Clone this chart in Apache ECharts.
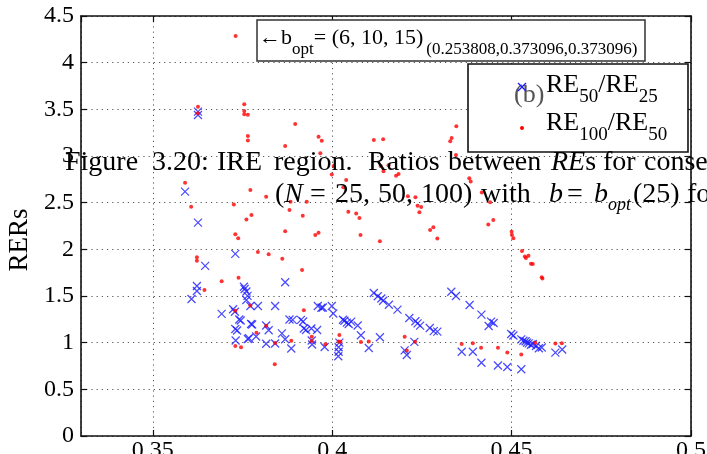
<!DOCTYPE html>
<html><head><meta charset="utf-8">
<script src="https://cdn.jsdelivr.net/npm/echarts@6/dist/echarts.min.js"></script>
<style>html,body{margin:0;padding:0;background:#fff}#c{width:707px;height:454px}</style>
</head><body><div id="c"></div>
<script>
const seriesNames = ['RE50/RE25', 'RE100/RE50'];
const xRange = [0.33, 0.5];
const yRange = [0, 4.5];

const re50_25 = [
[0.3626,3.475],[0.3626,3.439],[0.3590,2.618],[0.3626,2.286],[0.3646,1.822],[0.3730,1.952],[0.3869,1.647],[0.3623,1.607],[0.3623,1.554],[0.3608,1.468],
[0.3754,1.599],[0.3756,1.575],[0.3761,1.548],[0.3764,1.502],[0.3761,1.457],[0.3772,1.393],[0.3793,1.393],[0.3841,1.393],[0.3692,1.309],[0.3724,1.358],
[0.3729,1.331],[0.3741,1.248],[0.3745,1.238],[0.3774,1.200],[0.3777,1.195],[0.3730,1.146],[0.3735,1.130],[0.3816,1.184],[0.3823,1.133],[0.3860,1.100],
[0.3869,1.037],[0.3881,1.248],[0.3890,1.245],[0.3913,1.245],[0.3919,1.227],[0.3921,1.152],[0.3927,1.136],[0.3942,1.152],[0.3958,1.136],[0.3960,1.393],
[0.3970,1.374],[0.3974,1.377],[0.3999,1.393],[0.4003,1.313],[0.3731,1.023],[0.3765,1.039],[0.3768,1.047],[0.3788,1.066],[0.3816,0.988],[0.3841,0.991],
[0.3886,0.938],[0.3943,1.023],[0.3944,0.980],[0.3979,0.954],[0.4020,1.000],[0.4018,0.951],[0.4018,0.903],[0.4017,0.854],[0.4030,1.246],[0.4034,1.235],
[0.4041,1.214],[0.4046,1.200],[0.4053,1.225],[0.4071,1.184],[0.4080,1.079],[0.4102,0.943],[0.4133,1.058],[0.4116,1.532],[0.4127,1.497],[0.4137,1.473],
[0.4142,1.449],[0.4158,1.406],[0.4182,1.354],[0.4215,1.264],[0.4232,1.229],[0.4238,1.207],[0.4245,1.182],[0.4272,1.157],[0.4283,1.123],[0.4293,1.118],
[0.4202,0.918],[0.4208,0.868],[0.4229,1.009],[0.4332,1.546],[0.4345,1.500],[0.4383,1.404],[0.4416,1.300],[0.4443,1.225],[0.4436,1.179],[0.4450,1.211],
[0.4361,0.903],[0.4392,0.903],[0.4416,0.785],[0.4462,0.755],[0.4488,0.739],[0.4527,0.715],[0.4499,1.093],[0.4505,1.077],[0.4527,1.036],[0.4533,1.021],
[0.4539,1.015],[0.4543,1.000],[0.4548,0.993],[0.4554,0.978],[0.4559,0.986],[0.4568,0.964],[0.4576,0.940],[0.4584,0.948],[0.4622,0.893],[0.4641,0.927]
];

const re100_50 = [
[0.3731,4.286],[0.3626,3.528],[0.3626,3.457],[0.3755,3.554],[0.3755,3.482],[0.3755,3.447],[0.3765,3.443],[0.3765,3.214],[0.3765,3.166],[0.3897,3.343],
[0.3869,3.107],[0.3962,3.207],[0.3971,3.163],[0.3967,3.030],[0.4004,2.893],[0.3999,2.802],[0.4039,2.743],[0.4031,2.665],[0.3590,2.713],[0.3607,2.457],
[0.3772,2.636],[0.3816,2.564],[0.3726,2.480],[0.3884,2.509],[0.3929,2.509],[0.3881,2.421],[0.3918,2.361],[0.3761,2.320],[0.3775,2.368],[0.3730,2.162],
[0.3738,2.118],[0.3869,2.193],[0.3953,2.154],[0.3962,2.178],[0.4045,2.403],[0.4067,2.384],[0.4076,2.336],[0.3623,1.915],[0.3623,1.878],[0.3793,1.971],
[0.3823,1.947],[0.3861,1.899],[0.3916,1.779],[0.3692,1.658],[0.3739,1.696],[0.3644,1.564],[0.3772,1.398],[0.3730,1.343],[0.3921,1.348],[0.3816,1.181],
[0.3789,1.107],[0.3943,1.063],[0.3943,1.018],[0.3886,1.020],[0.3841,0.996],[0.3730,0.964],[0.3746,0.951],[0.3981,0.982],[0.3840,0.770],[0.4020,1.082],
[0.4018,1.012],[0.4023,1.010],[0.4116,3.171],[0.4142,3.179],[0.4135,2.893],[0.4143,2.836],[0.4157,2.900],[0.4178,2.789],[0.4185,2.807],[0.4211,2.569],
[0.4232,2.558],[0.4238,2.468],[0.4248,2.454],[0.4243,2.397],[0.4273,2.207],[0.4282,2.236],[0.4293,2.116],[0.4133,2.086],[0.4079,2.154],[0.4346,3.319],
[0.4333,3.193],[0.4329,3.158],[0.4345,3.011],[0.4382,2.761],[0.4386,2.727],[0.4417,2.609],[0.4440,2.504],[0.4449,2.314],[0.4435,2.266],[0.4500,2.189],
[0.4501,2.154],[0.4505,2.118],[0.4529,1.982],[0.4537,1.923],[0.4540,1.907],[0.4547,1.932],[0.4554,1.846],[0.4559,1.843],[0.4584,1.700],[0.4586,1.688],
[0.4080,1.007],[0.4102,1.012],[0.4202,1.064],[0.4208,0.916],[0.4231,1.010],[0.4361,0.986],[0.4392,0.993],[0.4415,0.946],[0.4462,0.946],[0.4488,0.895],
[0.4527,0.873],[0.4566,1.000],[0.4622,0.991],[0.4640,0.993]
];

const FONT = '"Liberation Serif", "DejaVu Serif", serif';
const CROSS = 'path://M0,0L10,10M10,0L0,10';
const BLUE = '#1a1aff';
const RED = '#ff0000';
const CAP = '#444';
const gridLine = { show: true, lineStyle: { color: '#555', type: [1.2, 4], width: 1 } };

function subRich(mainSize, subSize, off, color, italicSub) {
  return {
    m: { fontFamily: FONT, fontSize: mainSize, color: color, lineHeight: mainSize + 2, padding: [0, 0, off, 0] },
    s: { fontFamily: FONT, fontSize: subSize, color: color, lineHeight: subSize + 2, padding: [off, 0, 0, 0], fontStyle: italicSub ? 'italic' : 'normal' },
    t: { fontFamily: FONT, fontSize: subSize, color: color, lineHeight: subSize + 2, padding: [off, 0, 0, 3] },
    i: { fontFamily: FONT, fontSize: mainSize, color: color, lineHeight: mainSize + 2, padding: [0, 0, off, 0], fontStyle: 'italic' }
  };
}
function capText(x, cy, text, rich) {
  return { type: 'text', x: x, y: cy, z: 13, style: { text: text, rich: rich, verticalAlign: 'middle', align: 'left' } };
}
const capRich = subRich(28, 18, 0, CAP, true);
const capRich2 = subRich(28, 18, 10, CAP, true);
const L1 = 163, L2 = 200;

const chart = echarts.init(document.getElementById('c'), null, { renderer: 'canvas' });
chart.setOption({
  animation: false,
  backgroundColor: '#fff',
  grid: { left: 81, right: 16, top: 16, bottom: 18, containLabel: false, outerBoundsMode: 'none' },
  xAxis: [{
    type: 'value', min: xRange[0], max: xRange[1], splitNumber: 4,
    axisLine: { show: true, onZero: false, lineStyle: { color: '#111', width: 1.6 } },
    axisTick: { show: true, inside: true, length: 6, lineStyle: { color: '#111', width: 1.2 } },
    axisLabel: { showMinLabel: false, fontFamily: FONT, fontSize: 24, color: '#000', margin: 3 },
    splitLine: gridLine
  }, {
    type: 'value', position: 'top', min: xRange[0], max: xRange[1], splitNumber: 4,
    axisLine: { show: true, onZero: false, lineStyle: { color: '#111', width: 1.6 } },
    axisTick: { show: true, inside: true, length: 6, lineStyle: { color: '#111', width: 1.2 } },
    axisLabel: { show: false }, splitLine: { show: false }
  }],
  yAxis: [{
    type: 'value', min: yRange[0], max: yRange[1], interval: 0.5,
    axisLine: { show: true, onZero: false, lineStyle: { color: '#111', width: 1.6 } },
    axisTick: { show: true, inside: true, length: 6, lineStyle: { color: '#111', width: 1.2 } },
    axisLabel: { fontFamily: FONT, fontSize: 24, color: '#000', margin: 7 },
    splitLine: gridLine
  }, {
    type: 'value', position: 'right', min: yRange[0], max: yRange[1], interval: 0.5,
    axisLine: { show: true, onZero: false, lineStyle: { color: '#111', width: 1.6 } },
    axisTick: { show: true, inside: true, length: 6, lineStyle: { color: '#111', width: 1.2 } },
    axisLabel: { show: false }, splitLine: { show: false }
  }],
  series: [{
    name: seriesNames[0], type: 'scatter', data: re50_25, symbol: CROSS, symbolSize: 8,
    itemStyle: { color: 'rgba(0,0,0,0)', borderColor: BLUE, borderWidth: 1.2 }, z: 3
  }, {
    name: seriesNames[1], type: 'scatter', data: re100_50, symbol: 'circle', symbolSize: 4,
    itemStyle: { color: RED }, z: 4
  }],
  graphic: [
    { type: 'rect', shape: { x: 257, y: 20, width: 388, height: 41 }, style: { fill: '#fff', stroke: '#333', lineWidth: 1.5 }, z: 10 },
    { type: 'text', x: 259, y: 44, z: 11, style: {
      text: '{m|←b}{s|opt}{m|= (6, 10, 15)}{t|(0.253808,0.373096,0.373096)}',
      rich: subRich(22, 17, 11, '#000', false), verticalAlign: 'middle' } },
    { type: 'rect', shape: { x: 468, y: 64, width: 220, height: 88 }, style: { fill: '#fff', stroke: '#111', lineWidth: 1.6 }, z: 10 },
    { type: 'text', x: 514, y: 95, z: 11, style: { text: '(b)', fontFamily: FONT, fontSize: 26, fill: '#555', verticalAlign: 'middle' } },
    { type: 'line', z: 12, shape: { x1: 518, y1: 83, x2: 526, y2: 91 }, style: { stroke: BLUE, lineWidth: 1.2 } },
    { type: 'line', z: 12, shape: { x1: 526, y1: 83, x2: 518, y2: 91 }, style: { stroke: BLUE, lineWidth: 1.2 } },
    { type: 'circle', z: 12, shape: { cx: 522, cy: 128, r: 2 }, style: { fill: RED } },
    { type: 'text', x: 546, y: 91, z: 11, style: { text: '{m|RE}{s|50}{m|/RE}{s|25}', rich: subRich(26, 19, 12, '#000', false), verticalAlign: 'middle' } },
    { type: 'text', x: 546, y: 129, z: 11, style: { text: '{m|RE}{s|100}{m|/RE}{s|50}', rich: subRich(26, 19, 12, '#000', false), verticalAlign: 'middle' } },
    { type: 'text', x: 20, y: 240, rotation: Math.PI / 2, z: 11, style: { text: 'RERs', fontFamily: FONT, fontSize: 27, fill: '#000', align: 'center', verticalAlign: 'middle' } },
    capText(65, L1, '{m|Figure}', capRich),
    capText(152, L1, '{m|3.20:}', capRich),
    capText(217, L1, '{m|IRE}', capRich),
    capText(274, L1, '{m|region.}', capRich),
    capText(368, L1, '{m|Ratios}', capRich),
    capText(448, L1, '{m|between}', capRich),
    capText(551, L1, '{i|RE}{m|s}', capRich),
    capText(603, L1, '{m|for}', capRich),
    capText(644, L1, '{m|conse}', capRich),
    capText(275, L2, '{m|(}{i|N}', capRich2),
    capText(310, L2, '{m|=}', capRich2),
    capText(335, L2, '{m|25,}', capRich2),
    capText(378, L2, '{m|50,}', capRich2),
    capText(421, L2, '{m|100)}', capRich2),
    capText(481, L2, '{m|with}', capRich2),
    capText(549, L2, '{i|b}', capRich2),
    capText(567, L2, '{m|=}', capRich2),
    capText(594, L2, '{i|b}{s|opt}', capRich2),
    capText(633, L2, '{m|(25)}', capRich2),
    capText(687, L2, '{m|fo}', capRich2)
  ]
});
</script></body></html>
